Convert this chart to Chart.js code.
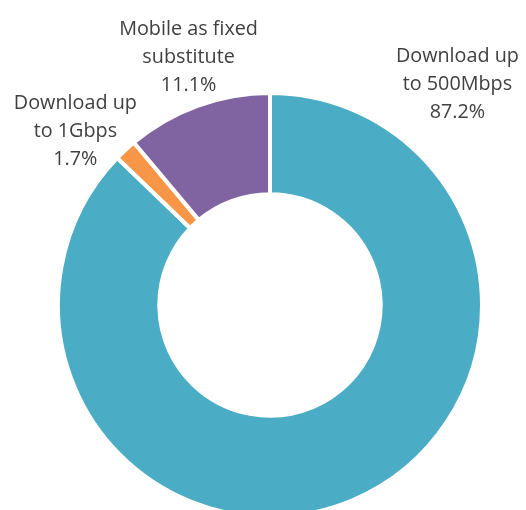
<!DOCTYPE html>
<html lang="en">
<head>
    <meta charset="UTF-8">
    <title>Broadband mix</title>
    <script src="https://cdn.jsdelivr.net/npm/chart.js"></script>
    <style>
        body {
            margin: 0;
            padding: 0;
            background: #ffffff;
            overflow: hidden;
        }
    </style>
</head>
<body>
    <canvas id="mixChart" width="526" height="510"></canvas>
    <script>
        // data
        const labelLines = [
            ['Download up', 'to 500Mbps'],
            ['Download up', 'to 1Gbps'],
            ['Mobile as fixed', 'substitute']
        ];
        const shares = [87.2, 1.7, 11.1];
        const colors = ['#4bacc6', '#f79646', '#8064a2'];
        // where along each slice the label hangs, and a nudge from the outer edge there
        const labelAt = [0.1, 0.5, 0.5];
        const labelNudge = [[77, -34], [-50, -13], [-9, -43]];

        // draws the outside labels like Excel does
        const outsideLabels = {
            id: 'outsideLabels',
            afterDatasetsDraw(chart) {
                const ctx = chart.ctx;
                const arcs = chart.getDatasetMeta(0).data;
                ctx.save();
                ctx.font = '19.8px "Open Sans", sans-serif';
                ctx.fillStyle = '#404040';
                ctx.textAlign = 'center';
                ctx.textBaseline = 'alphabetic';
                arcs.forEach(function(arc, i) {
                    const a = arc.startAngle + (arc.endAngle - arc.startAngle) * labelAt[i];
                    const x = arc.x + Math.cos(a) * arc.outerRadius + labelNudge[i][0];
                    const y = arc.y + Math.sin(a) * arc.outerRadius + labelNudge[i][1];
                    const lines = labelLines[i].concat([shares[i].toFixed(1) + '%']);
                    lines.forEach(function(line, k) {
                        ctx.fillText(line, x, y + (k - 1) * 28);
                    });
                });
                ctx.restore();
            }
        };

        new Chart(document.getElementById('mixChart'), {
            type: 'doughnut',
            data: {
                labels: labelLines.map(l => l.join(' ')),
                datasets: [{
                    data: shares,
                    backgroundColor: colors,
                    borderColor: '#ffffff',
                    borderWidth: 4
                }]
            },
            options: {
                responsive: false,
                animation: false,
                radius: 212,
                cutout: 106,
                layout: {
                    padding: { left: 14, right: 0, top: 100, bottom: 0 }
                },
                plugins: {
                    legend: { display: false },
                    tooltip: { enabled: false }
                }
            },
            plugins: [outsideLabels]
        });
    </script>
</body>
</html>
